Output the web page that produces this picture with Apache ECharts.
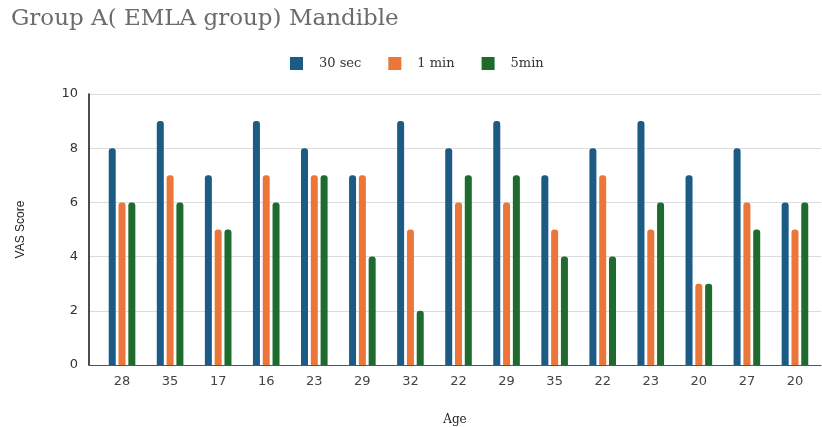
<!DOCTYPE html>
<html>
<head>
<meta charset="utf-8">
<script src="https://cdn.jsdelivr.net/npm/echarts@6/dist/echarts.min.js"></script>
<style>
  html, body { margin: 0; padding: 0; background: #fff; }
  #chart { width: 822px; height: 427px; }
</style>
</head>
<body>
<div id="chart"></div>
<script>
// Ages of the patients (one group of bars per patient)
const ages = ['28', '35', '17', '16', '23', '29', '32', '22', '29', '35', '22', '23', '20', '27', '20'];

// VAS scores at each time point
const sec30 = [8, 9, 7, 9, 8, 7, 9, 8, 9, 7, 8, 9, 7, 8, 6];
const min1  = [6, 7, 5, 7, 7, 7, 5, 6, 6, 5, 7, 5, 3, 6, 5];
const min5  = [6, 6, 5, 6, 7, 4, 2, 7, 7, 4, 4, 6, 3, 5, 6];

const seriesNames = ['30 sec', '1 min', '5min'];
const colors = ['#1b5b86', '#ec763a', '#1d6b2d'];

const yTicks = { min: 0, max: 10, interval: 2 };

const chart = echarts.init(document.getElementById('chart'));

const serif = 'DejaVu Serif';
const sans = 'DejaVu Sans';

function bar(name, data, color) {
  return {
    name: name,
    type: 'bar',
    xAxisIndex: 1,
    yAxisIndex: 1,
    data: data,
    barWidth: 7,
    barGap: '40%',
    itemStyle: { color: color, borderRadius: [3, 3, 0, 0] }
  };
}

chart.setOption({
  animation: false,
  backgroundColor: '#fff',
  title: {
    text: 'Group A( EMLA group) Mandible',
    left: 6,
    top: 3,
    textStyle: { fontFamily: serif, fontSize: 23, fontWeight: 'normal', color: '#6b6b6b' }
  },
  legend: {
    data: seriesNames,
    left: 285,
    top: 52,
    itemWidth: 13,
    itemHeight: 13,
    itemGap: 27,
    icon: 'rect',
    textStyle: { fontFamily: serif, fontSize: 13, color: '#333', padding: [0, 0, 0, 11] }
  },
  grid: [
    // frame: axis lines, split lines and value labels
    { left: 89, right: 1, top: 94, bottom: 62, outerBoundsMode: 'none' },
    // bars
    { left: 98, right: 3, top: 94, bottom: 62, outerBoundsMode: 'none' }
  ],
  xAxis: [
    {
      type: 'category',
      gridIndex: 0,
      data: [''],
      axisLine: { show: true, lineStyle: { color: '#555', width: 1 } },
      axisTick: { show: false },
      axisLabel: { show: false },
      name: 'Age',
      nameLocation: 'middle',
      nameGap: 49,
      nameTextStyle: { fontFamily: serif, fontSize: 12, color: '#222' }
    },
    {
      type: 'category',
      gridIndex: 1,
      data: ages,
      axisLine: { show: false },
      axisTick: { show: false },
      axisLabel: { fontFamily: sans, fontSize: 13, color: '#444', margin: 10 }
    }
  ],
  yAxis: [
    {
      type: 'value',
      gridIndex: 0,
      min: yTicks.min,
      max: yTicks.max,
      interval: yTicks.interval,
      axisLine: { show: true, lineStyle: { color: '#111', width: 1.5 } },
      axisTick: { show: false },
      axisLabel: { fontFamily: sans, fontSize: 13, color: '#333', margin: 11 },
      splitLine: { lineStyle: { color: '#dcdcdc', width: 1 } },
      name: 'VAS Score',
      nameLocation: 'middle',
      nameGap: 62,
      nameTextStyle: { fontFamily: 'Liberation Sans', fontSize: 12, color: '#222' }
    },
    {
      type: 'value',
      gridIndex: 1,
      min: yTicks.min,
      max: yTicks.max,
      interval: yTicks.interval,
      show: false
    }
  ],
  series: [
    bar(seriesNames[0], sec30, colors[0]),
    bar(seriesNames[1], min1, colors[1]),
    bar(seriesNames[2], min5, colors[2])
  ]
});
</script>
</body>
</html>
